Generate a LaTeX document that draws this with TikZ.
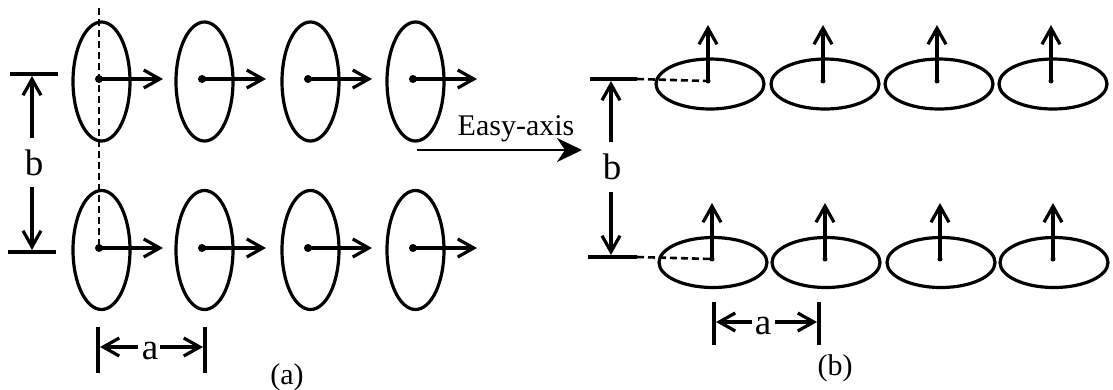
\documentclass[tikz,border=0pt]{standalone}
\usepackage{fontspec}
\setmainfont{Liberation Serif}
\usetikzlibrary{arrows.meta,shapes.geometric}
\begin{document}
\begin{tikzpicture}[x=1pt,y=-1pt, line width=3.2pt,
  vec/.style={-{Straight Barb[length=16pt,width=18pt]}},
  pdot/.style={circle,fill,inner sep=0pt,minimum size=8pt},
  sdot/.style={circle,fill,inner sep=0pt,minimum size=5pt},
  vell/.style={ellipse,draw,inner sep=0pt,minimum width=57pt,minimum height=119pt},
  hell/.style={ellipse,draw,inner sep=0pt,minimum width=108pt,minimum height=50pt},
  lbl/.style={font=\fontsize{37}{40}\selectfont, inner sep=0pt},
  captxt/.style={font=\fontsize{30}{34}\selectfont, inner sep=0pt},
  guide/.style={dash pattern=on 7pt off 4pt, line width=2.6pt}]
\useasboundingbox (0,0) rectangle (1113,389);

% ---------- panel (a)
\foreach \i/\x in {1/99,2/202,3/308,4/413} {
  \node[vell] (eat\i) at (\x+2.5,81.5) {};
  \node[vell] (eab\i) at (\x+2.5,250) {};
  \node[pdot] (pat\i) at (\x,79) {};
  \node[pdot] (pab\i) at (\x,248) {};
  \coordinate (qat\i) at (\x+64,79);
  \coordinate (qab\i) at (\x+64,248);
  \draw[vec] (pat\i.center) -- (qat\i);
  \draw[vec] (pab\i.center) -- (qab\i);
}
\coordinate (dtop) at (99,8);
\draw[guide] (dtop) -- (pab1.center);

% b dimension (a)
\coordinate (ba1) at (10,74); \coordinate (ba2) at (58,74);
\coordinate (ba3) at (8,252); \coordinate (ba4) at (56,252);
\draw (ba1) -- (ba2);
\draw (ba3) -- (ba4);
\node[lbl] (bA) at (34,163) {b};
\coordinate (bAs1) at (32,138); \coordinate (bAt1) at (32,76);
\coordinate (bAs2) at (32,187); \coordinate (bAt2) at (32,250);
\draw[vec] (bAs1) -- (bAt1);
\draw[vec] (bAs2) -- (bAt2);

% a dimension (a)
\coordinate (ta1) at (98,327); \coordinate (ta2) at (98,373);
\coordinate (ta3) at (205,327); \coordinate (ta4) at (205,373);
\draw (ta1) -- (ta2);
\draw (ta3) -- (ta4);
\node[lbl] (aA) at (150,351) {a};
\coordinate (aAs1) at (138,347); \coordinate (aAt1) at (100,347);
\coordinate (aAs2) at (160,347); \coordinate (aAt2) at (203,347);
\draw[vec] (aAs1) -- (aAt1);
\draw[vec] (aAs2) -- (aAt2);

\node[captxt] (capa) at (287,377) {(a)};

% ---------- easy axis
\coordinate (ez0) at (417,150); \coordinate (ez1) at (582,150);
\draw[line width=2.8pt,-{Stealth[length=25pt,width=24pt,inset=8pt]}] (ez0) -- (ez1);
\node[captxt,anchor=base] (ezl) at (516,135) {Easy-axis};

% ---------- panel (b)
\foreach \i/\x in {1/708,2/823,3/937,4/1051} {
  \node[hell] (ebt\i) at (\x+2,84) {};
  \node[sdot] (pbt\i) at (\x,81) {};
  \coordinate (qbt\i) at (\x,25);
  \draw[vec] (pbt\i.center) -- (qbt\i);
}
\foreach \i/\x in {1/712,2/825,3/940,4/1053} {
  \node[hell] (ebb\i) at (\x+1,262.5) {};
  \node[sdot] (pbb\i) at (\x,259) {};
  \coordinate (qbb\i) at (\x,203);
  \draw[vec] (pbb\i.center) -- (qbb\i);
}

% b dimension (b)
\coordinate (bb1) at (590,79); \coordinate (bb2) at (637,79);
\coordinate (bb3) at (588,257); \coordinate (bb4) at (637,257);
\draw (bb1) -- (bb2);
\draw (bb3) -- (bb4);
\draw[guide] (bb2) -- (pbt1.center);
\draw[guide] (bb4) -- (pbb1.center);
\node[lbl] (bB) at (612,167) {b};
\coordinate (bBs1) at (611,142); \coordinate (bBt1) at (611,81);
\coordinate (bBs2) at (611,192); \coordinate (bBt2) at (611,255);
\draw[vec] (bBs1) -- (bBt1);
\draw[vec] (bBs2) -- (bBt2);

% a dimension (b)
\coordinate (tb1) at (714,302); \coordinate (tb2) at (714,345);
\coordinate (tb3) at (819,302); \coordinate (tb4) at (819,345);
\draw (tb1) -- (tb2);
\draw (tb3) -- (tb4);
\node[lbl] (aB) at (763,326) {a};
\coordinate (aBs1) at (752,322); \coordinate (aBt1) at (716,322);
\coordinate (aBs2) at (775,322); \coordinate (aBt2) at (817,322);
\draw[vec] (aBs1) -- (aBt1);
\draw[vec] (aBs2) -- (aBt2);

\node[captxt] (capb) at (835,368) {(b)};
\end{tikzpicture}
\end{document}
